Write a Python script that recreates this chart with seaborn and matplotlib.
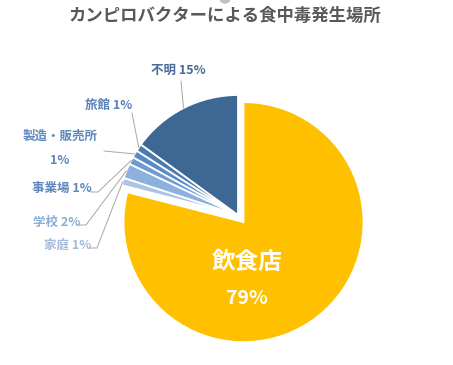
import seaborn as sns
import matplotlib.pyplot as plt
import matplotlib.patches as mpatches
import numpy as np

# ----------------------------
# Data (percent share by place)
# ----------------------------
places = ["飲食店", "家庭", "学校", "事業場", "製造・販売所", "旅館", "不明"]
shares = [79, 1, 2, 1, 1, 1, 15]
pct_labels = ["79%", "1%", "2%", "1%", "1%", "1%", "15%"]

slice_colors = ["#FFC000", "#A9C4E4", "#8DB1DD", "#6F9BD1", "#5B8AC4", "#4B7BB3", "#3D6894"]
label_colors = ["#FFFFFF", "#A3BBDA", "#8AADD6", "#5C88BF", "#5E87BC", "#5A82B6", "#4A6C96"]

# ----------------------------
# Styling
# ----------------------------
sns.set_theme(style="white")
plt.rcParams["font.family"] = ["Noto Sans CJK JP", "DejaVu Sans"]

W, H = 453, 365
fig = plt.figure(figsize=(W / 100, H / 100), dpi=100)
ax = fig.add_axes([0, 0, 1, 1])


def px(x, y):
    # pixel coords (top-left origin) -> data coords
    return x, H - y


cx, cy = px(238, 215)
R = 120

# explode is in data units here (radius is in pixels)
wedges, _ = ax.pie(
    shares,
    colors=slice_colors,
    startangle=90,
    counterclock=False,
    radius=R,
    center=(cx, cy),
    explode=[9, 0, 0, 0, 0, 0, 0],
    wedgeprops=dict(edgecolor="white", linewidth=1.3),
)
ax.set_xlim(0, W)
ax.set_ylim(0, H)
ax.axis("off")

# ----------------------------
# Outside labels with leader lines
# ----------------------------
# (text centre, leader start points) in pixels
layout = {
    "家庭": ((68, 245), [(90, 248), (97, 248)]),
    "学校": ((57, 222), [(79, 225), (86, 225)]),
    "事業場": ((62, 188), [(91, 192), (98, 192)]),
    "製造・販売所": ((60, 148), [(104, 151)]),
    "旅館": ((109, 105), [(132, 113)]),
    "不明": ((178, 70), [(181, 81)]),
}

for i, name in enumerate(places):
    if name not in layout:
        continue
    w = wedges[i]
    mid = np.deg2rad((w.theta1 + w.theta2) / 2)
    ex = w.center[0] + w.r * np.cos(mid)
    ey = w.center[1] + w.r * np.sin(mid)
    (tx, ty), pts = layout[name]
    xs = [p[0] for p in pts] + [ex]
    ys = [H - p[1] for p in pts] + [ey]
    ax.plot(xs, ys, color="#A6A6A6", lw=0.7, zorder=1)
    if name == "製造・販売所":
        txt = f"{name}\n\n{pct_labels[i]}"
        ax.text(*px(tx, ty), txt, ha="center", va="center", fontsize=9,
                fontweight="bold", color=label_colors[i], linespacing=0.9)
    else:
        ax.text(*px(tx, ty), f"{name} {pct_labels[i]}", ha="center", va="center",
                fontsize=9, fontweight="bold", color=label_colors[i])

# inside label for the big slice
ax.text(*px(247, 262), places[0], ha="center", va="center", fontsize=17,
        fontweight="bold", color="white")
ax.text(*px(247, 298), pct_labels[0], ha="center", va="center", fontsize=14,
        fontweight="bold", color="white")

# ----------------------------
# Title
# ----------------------------
ax.text(*px(225, 16), "カンピロバクターによる食中毒発生場所", ha="center", va="center",
        fontsize=12.5, fontweight="bold", color="#595959")
ax.add_patch(mpatches.Circle(px(225, -2), 5, color="#BFBFBF", clip_on=True))

plt.savefig("out.png", dpi=100)
plt.close()
